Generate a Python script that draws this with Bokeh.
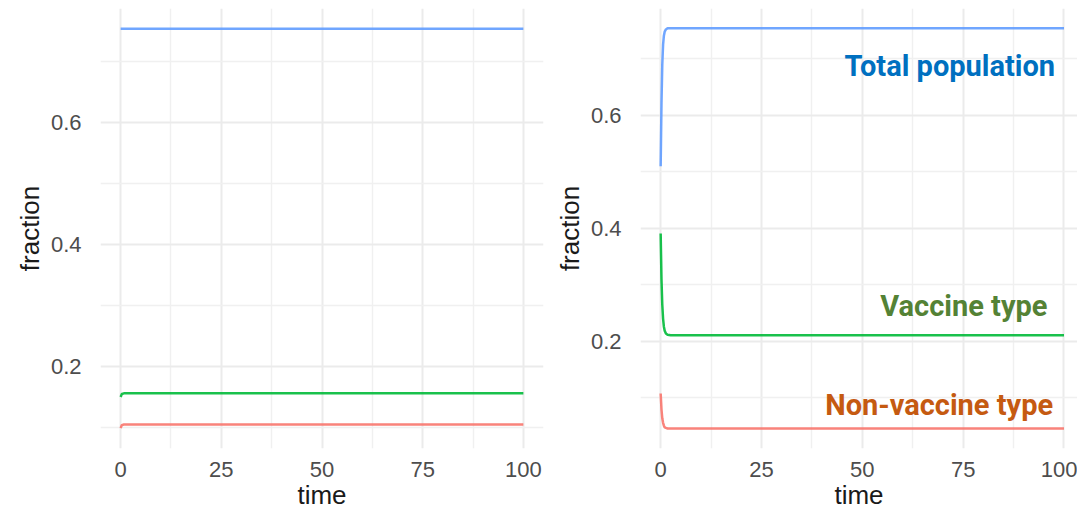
from bokeh.plotting import figure
from bokeh.layouts import row
from bokeh.models import FixedTicker, Label, Range1d
from bokeh.embed import file_html
from bokeh.resources import INLINE

# ---- data ----
time_left = [0, 0.3, 0.8, 100]
total_left = [0.754, 0.754, 0.754, 0.754]
vaccine_left = [0.150, 0.155, 0.156, 0.156]
nonvaccine_left = [0.099, 0.104, 0.105, 0.105]

time_right = [0, 0.2, 0.4, 0.6, 0.8, 1.0, 1.3, 1.7, 2.5, 100]
total_right = [0.51, 0.62, 0.69, 0.725, 0.741, 0.748, 0.752, 0.754, 0.754, 0.754]
vaccine_right = [0.391, 0.31, 0.265, 0.24, 0.226, 0.219, 0.214, 0.212, 0.211, 0.211]
nonvaccine_right = [0.108, 0.08, 0.064, 0.056, 0.051, 0.048, 0.047, 0.046, 0.046, 0.046]

x_ticks = [0, 25, 50, 75, 100]
x_minor = [12.5, 37.5, 62.5, 87.5]
y_ticks = [0.2, 0.4, 0.6]
y_minor = [0.1, 0.3, 0.5, 0.7]

label_texts = ["Total population", "Vaccine type", "Non-vaccine type"]
label_colors = ["#0070C0", "#548235", "#C55A11"]

COL_TOTAL = "#619CFF"
COL_VAC = "#00BA38"
COL_NON = "#F8766D"
FONT = "Liberation Sans"


def style(p):
    p.outline_line_color = None
    p.background_fill_color = "white"
    p.border_fill_color = "white"
    p.xaxis.ticker = FixedTicker(ticks=x_ticks, minor_ticks=x_minor)
    p.yaxis.ticker = FixedTicker(ticks=y_ticks, minor_ticks=y_minor)
    p.xaxis.major_label_overrides = {0: "0", 25: "25", 50: "50", 75: "75", 100: "100"}
    p.yaxis.major_label_overrides = {0.2: "0.2", 0.4: "0.4", 0.6: "0.6"}
    for ax in (p.xaxis, p.yaxis):
        ax.axis_line_color = None
        ax.major_tick_line_color = None
        ax.minor_tick_line_color = None
        ax.major_label_text_font = FONT
        ax.major_label_text_font_size = "22px"
        ax.major_label_text_color = "#4D4D4D"
        ax.axis_label_text_font = FONT
        ax.axis_label_text_font_size = "26px"
        ax.axis_label_text_font_style = "normal"
        ax.axis_label_text_color = "#1A1A1A"
    p.yaxis.major_label_standoff = 13
    p.xaxis.major_label_standoff = 7
    p.yaxis.axis_label_standoff = 3
    p.xaxis.axis_label_standoff = 0
    p.xaxis.axis_label = "time"
    p.yaxis.axis_label = "fraction"
    for g in (p.xgrid, p.ygrid):
        g.grid_line_color = "#EBEBEB"
        g.grid_line_width = 2
        g.minor_grid_line_color = "#F0F0F0"
        g.minor_grid_line_width = 1.5


p1 = figure(frame_width=443, frame_height=440, min_border_left=100, min_border_right=7,
            min_border_top=8, min_border_bottom=61,
            x_range=Range1d(-5, 105), y_range=Range1d(0.0656, 0.787),
            output_backend="svg", toolbar_location=None)
style(p1)
p1.line(time_left, total_left, line_color=COL_TOTAL, line_width=2.5, line_alpha=0.9)
p1.line(time_left, vaccine_left, line_color=COL_VAC, line_width=2.5, line_alpha=0.9)
p1.line(time_left, nonvaccine_left, line_color=COL_NON, line_width=2.5, line_alpha=0.9)

p2 = figure(frame_width=437, frame_height=440, min_border_left=90, min_border_right=0,
            min_border_top=8, min_border_bottom=61,
            x_range=Range1d(-5, 103.35), y_range=Range1d(0.0106, 0.789),
            output_backend="svg", toolbar_location=None)
style(p2)
p2.line(time_right, total_right, line_color=COL_TOTAL, line_width=2.5, line_alpha=0.9)
p2.line(time_right, vaccine_right, line_color=COL_VAC, line_width=2.5, line_alpha=0.9)
p2.line(time_right, nonvaccine_right, line_color=COL_NON, line_width=2.5, line_alpha=0.9)

label_pos = [(97.8, 0.687), (95.9, 0.262), (97.3, 0.087)]
for txt, col, (lx, ly) in zip(label_texts, label_colors, label_pos):
    p2.add_layout(Label(x=lx, y=ly, text=txt, text_align="right", text_baseline="alphabetic",
                        text_font="Roboto", text_font_style="bold", text_font_size="29px",
                        text_color=col))

layout = row(p1, p2, spacing=0)
open("out.html", "w").write(file_html(layout, INLINE))
